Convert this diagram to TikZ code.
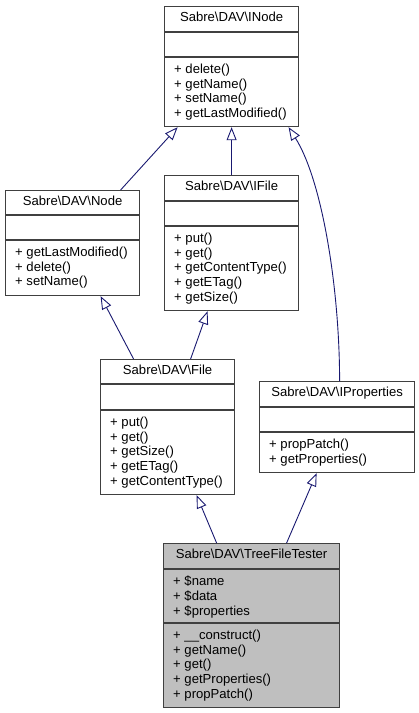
\documentclass[tikz,border=0pt]{standalone}
\usepackage{fontspec}
\setmainfont{Liberation Sans}
\usetikzlibrary{arrows.meta,positioning}
\definecolor{edgeblue}{HTML}{191970}
\definecolor{boxgray}{HTML}{404040}
\definecolor{focusgray}{HTML}{BFBFBF}
\tikzset{
  classbox/.style={draw=boxgray, line width=1.2pt, fill=white, anchor=north west, inner sep=0pt},
  focusbox/.style={classbox, fill=focusgray},
  sepline/.style={boxgray, line width=1.2pt},
  titletext/.style={inner sep=0pt, font=\fontsize{13.1}{14.6}\selectfont},
  membertext/.style={inner sep=0pt, align=left, anchor=north west, font=\fontsize{13.1}{14.6}\selectfont},
  inherit/.style={draw=edgeblue, line width=0.9pt, -{Triangle[open, length=13pt, width=10pt]}},
}

\begin{document}
\begin{tikzpicture}[x=1pt, y=-1pt]
  \useasboundingbox (0,0) rectangle (419,713);

  % Sabre\DAV\INode
  \node[classbox, minimum width=134pt, minimum height=120pt] (inode) at (164,6) {};
  \draw[sepline] ([yshift=-26pt]inode.north west) -- ([yshift=-26pt]inode.north east);
  \draw[sepline] ([yshift=-51pt]inode.north west) -- ([yshift=-51pt]inode.north east);
  \node[titletext, below=6pt of inode.north] (inodeT) {Sabre\textbackslash DAV\textbackslash INode};
  \node[membertext, below right=58pt and 10pt of inode.north west] (inodeM)
    {+ delete()\\+ getName()\\+ setName()\\+ getLastModified()};

  % Sabre\DAV\Node
  \node[classbox, minimum width=134pt, minimum height=105pt] (node) at (5,190) {};
  \draw[sepline] ([yshift=-25pt]node.north west) -- ([yshift=-25pt]node.north east);
  \draw[sepline] ([yshift=-50pt]node.north west) -- ([yshift=-50pt]node.north east);
  \node[titletext, below=6pt of node.north] (nodeT) {Sabre\textbackslash DAV\textbackslash Node};
  \node[membertext, below right=57pt and 10pt of node.north west] (nodeM)
    {+ getLastModified()\\+ delete()\\+ setName()};

  % Sabre\DAV\IFile
  \node[classbox, minimum width=134pt, minimum height=135pt] (ifile) at (164,175) {};
  \draw[sepline] ([yshift=-26pt]ifile.north west) -- ([yshift=-26pt]ifile.north east);
  \draw[sepline] ([yshift=-51pt]ifile.north west) -- ([yshift=-51pt]ifile.north east);
  \node[titletext, below=6pt of ifile.north] (ifileT) {Sabre\textbackslash DAV\textbackslash IFile};
  \node[membertext, below right=58pt and 10pt of ifile.north west] (ifileM)
    {+ put()\\+ get()\\+ getContentType()\\+ getETag()\\+ getSize()};

  % Sabre\DAV\File
  \node[classbox, minimum width=134pt, minimum height=135pt] (file) at (100,359) {};
  \draw[sepline] ([yshift=-25pt]file.north west) -- ([yshift=-25pt]file.north east);
  \draw[sepline] ([yshift=-51pt]file.north west) -- ([yshift=-51pt]file.north east);
  \node[titletext, below=6pt of file.north] (fileT) {Sabre\textbackslash DAV\textbackslash File};
  \node[membertext, below right=58pt and 10pt of file.north west] (fileM)
    {+ put()\\+ get()\\+ getSize()\\+ getETag()\\+ getContentType()};

  % Sabre\DAV\IProperties
  \node[classbox, minimum width=155pt, minimum height=91pt] (iprops) at (259,381) {};
  \draw[sepline] ([yshift=-26pt]iprops.north west) -- ([yshift=-26pt]iprops.north east);
  \draw[sepline] ([yshift=-51pt]iprops.north west) -- ([yshift=-51pt]iprops.north east);
  \node[titletext, below=6pt of iprops.north] (ipropsT) {Sabre\textbackslash DAV\textbackslash IProperties};
  \node[membertext, below right=58pt and 10pt of iprops.north west] (ipropsM)
    {+ propPatch()\\+ getProperties()};

  % Sabre\DAV\TreeFileTester
  \node[focusbox, minimum width=176pt, minimum height=164pt] (tester) at (163,543) {};
  \draw[sepline] ([yshift=-26pt]tester.north west) -- ([yshift=-26pt]tester.north east);
  \draw[sepline] ([yshift=-80pt]tester.north west) -- ([yshift=-80pt]tester.north east);
  \node[titletext, below=6pt of tester.north] (testerT) {Sabre\textbackslash DAV\textbackslash TreeFileTester};
  \node[membertext, below right=33pt and 10pt of tester.north west] (testerA)
    {+ \$name\\+ \$data\\+ \$properties};
  \node[membertext, below right=87pt and 10pt of tester.north west] (testerM)
    {+ \_\_construct()\\+ getName()\\+ get()\\+ getProperties()\\+ propPatch()};

  % inheritance
  \draw[inherit] ([xshift=48pt]node.north) -- ([xshift=-54pt]inode.south);
  \draw[inherit] (ifile.north) -- (inode.south);
  \draw[inherit] ([xshift=2.5pt]iprops.north) .. controls +(0,-91) and +(34,54) .. ([xshift=57pt]inode.south);
  \draw[inherit] ([xshift=-34pt]file.north) -- ([xshift=28pt]node.south);
  \draw[inherit] ([xshift=23pt]file.north) -- ([xshift=-24pt]ifile.south);
  \draw[inherit] ([xshift=-35pt]tester.north) -- ([xshift=29pt]file.south);
  \draw[inherit] ([xshift=35pt]tester.north) -- ([xshift=-20.5pt]iprops.south);
\end{tikzpicture}
\end{document}
